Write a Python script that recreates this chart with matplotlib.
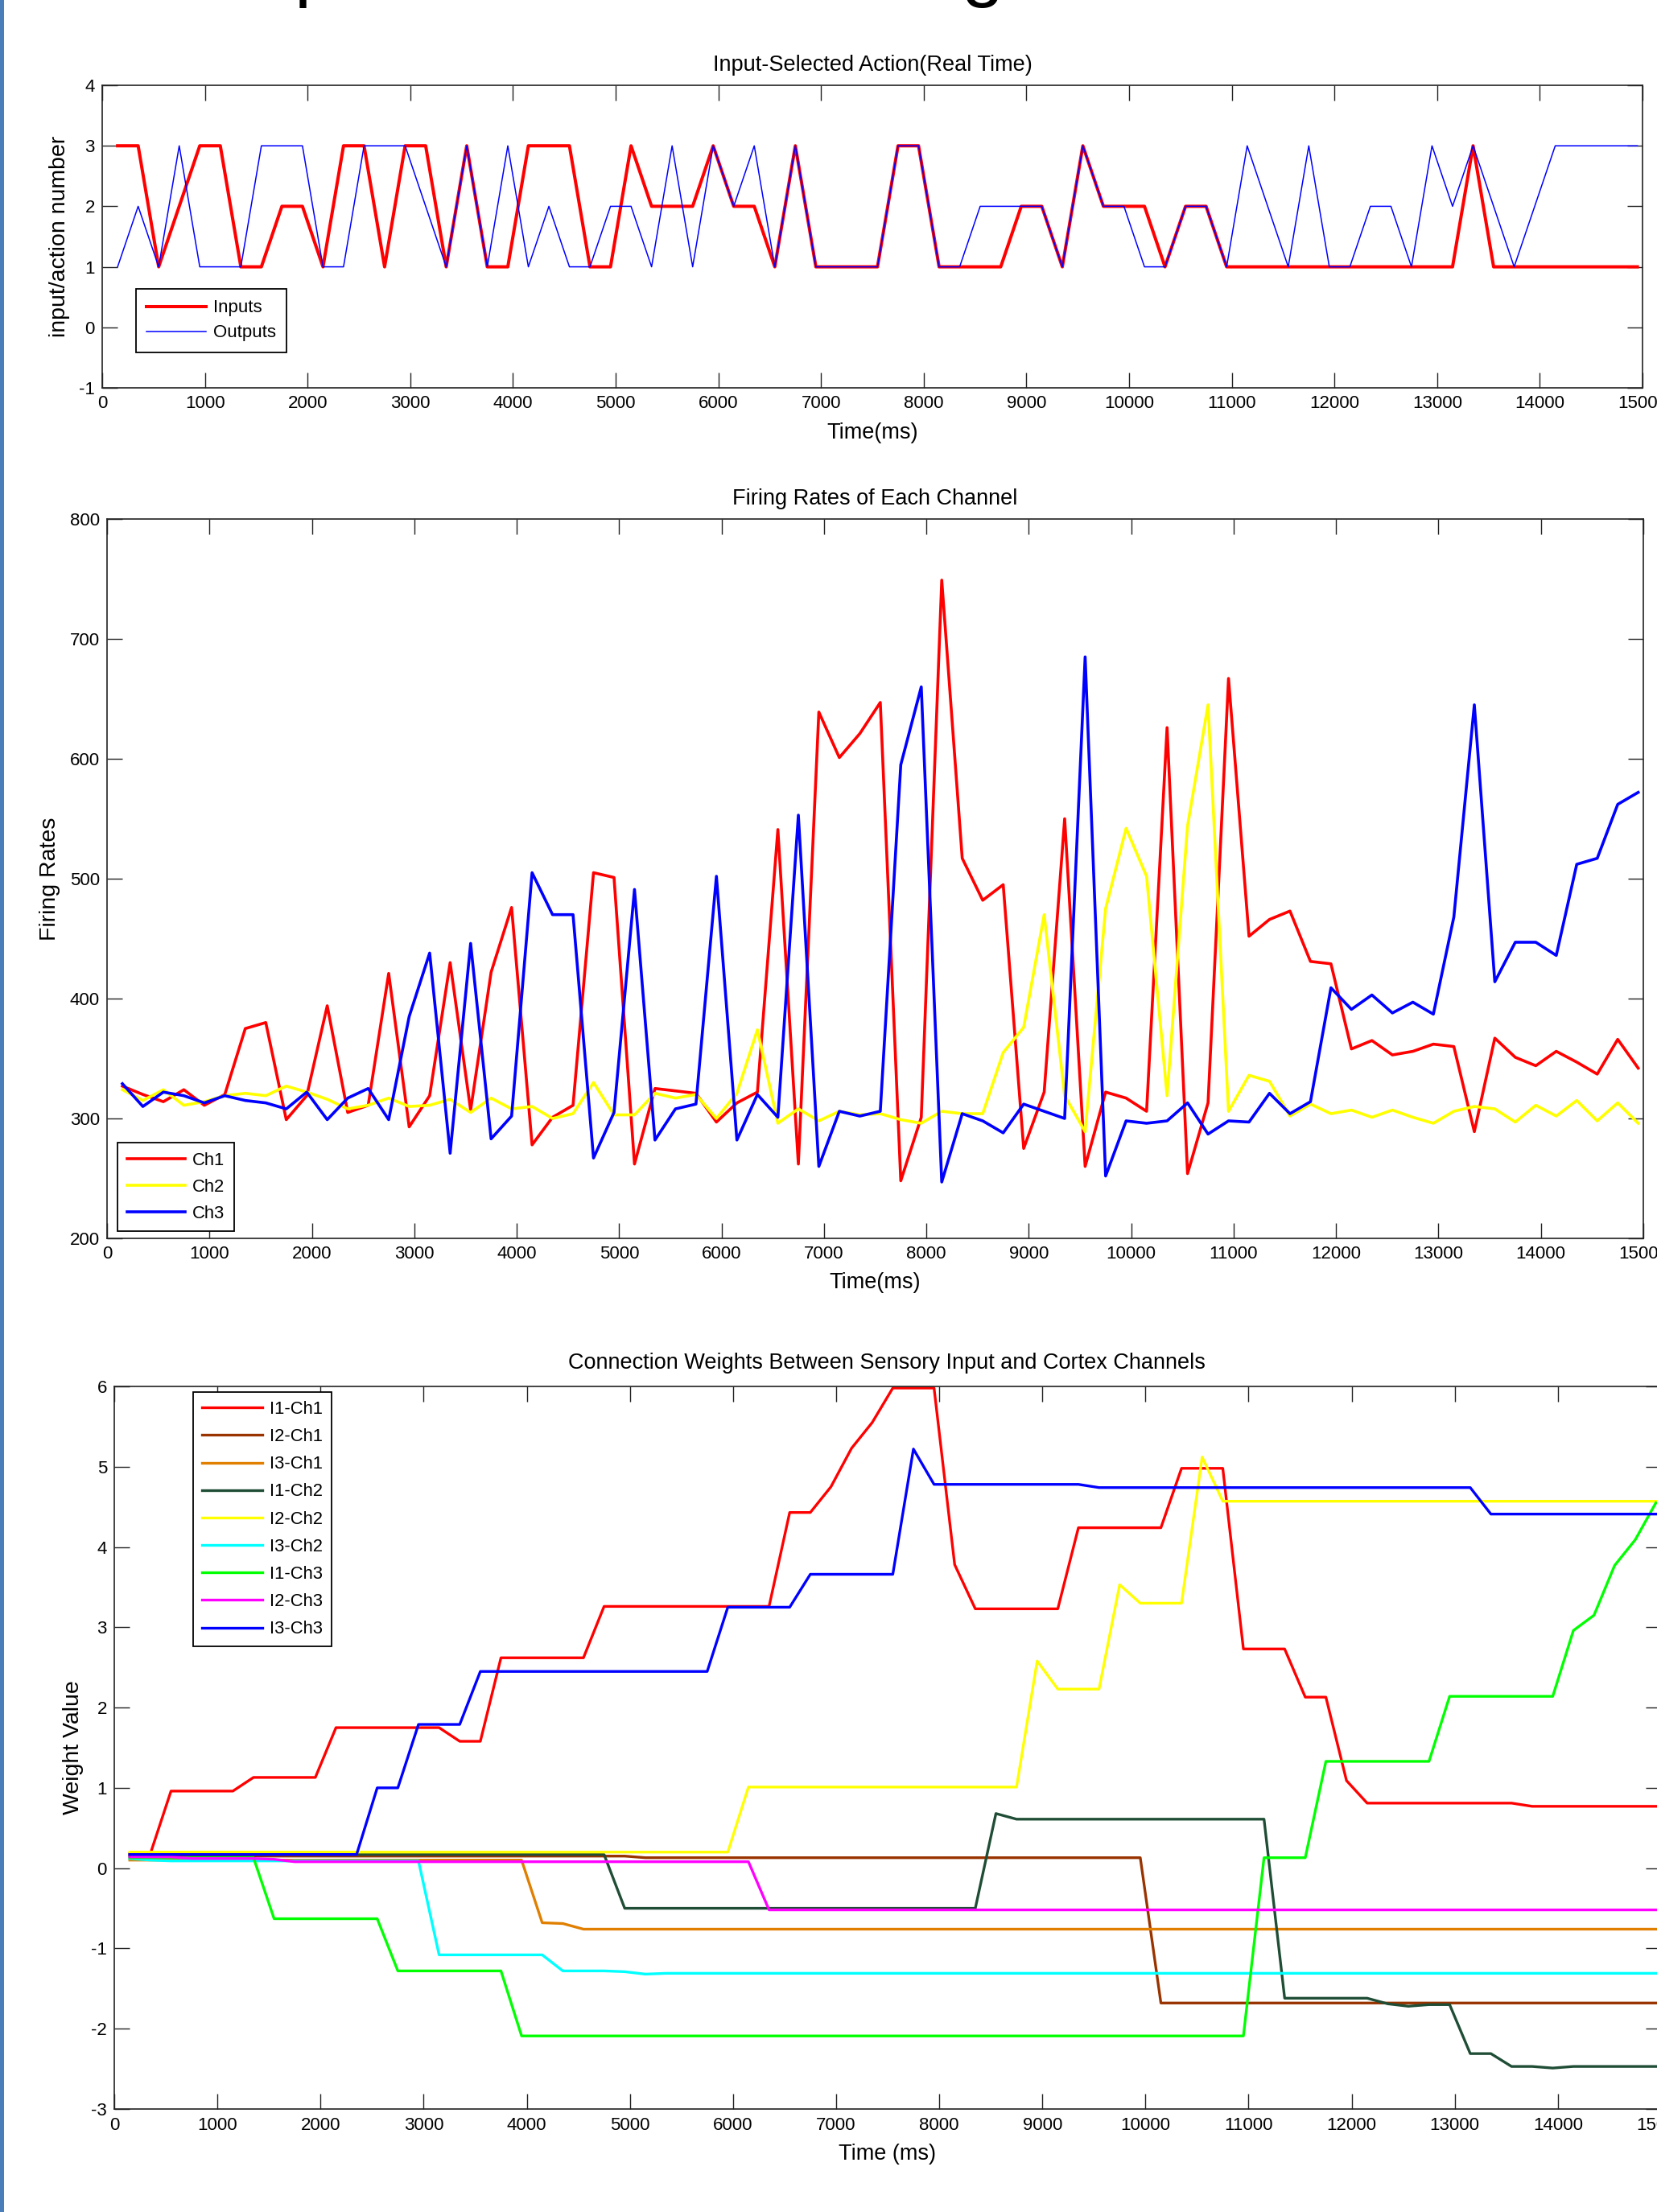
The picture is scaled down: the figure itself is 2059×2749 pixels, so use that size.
import matplotlib
matplotlib.use("Agg")
import matplotlib.pyplot as plt
from matplotlib.patches import Rectangle

# ---------------- data ----------------
time_ms = [150, 350, 550, 750, 950, 1150, 1350, 1550, 1750, 1950,
           2150, 2350, 2550, 2750, 2950, 3150, 3350, 3550, 3750, 3950,
           4150, 4350, 4550, 4750, 4950, 5150, 5350, 5550, 5750, 5950,
           6150, 6350, 6550, 6750, 6950, 7150, 7350, 7550, 7750, 7950,
           8150, 8350, 8550, 8750, 8950, 9150, 9350, 9550, 9750, 9950,
           10150, 10350, 10550, 10750, 10950, 11150, 11350, 11550, 11750, 11950,
           12150, 12350, 12550, 12750, 12950, 13150, 13350, 13550, 13750, 13950,
           14150, 14350, 14550, 14750, 14950]

inputs = [3, 3, 1, 2, 3, 3, 1, 1, 2, 2,
          1, 3, 3, 1, 3, 3, 1, 3, 1, 1,
          3, 3, 3, 1, 1, 3, 2, 2, 2, 3,
          2, 2, 1, 3, 1, 1, 1, 1, 3, 3,
          1, 1, 1, 1, 2, 2, 1, 3, 2, 2,
          2, 1, 2, 2, 1, 1, 1, 1, 1, 1,
          1, 1, 1, 1, 1, 1, 3, 1, 1, 1,
          1, 1, 1, 1, 1]
outputs = [1, 2, 1, 3, 1, 1, 1, 3, 3, 3,
           1, 1, 3, 3, 3, 2, 1, 3, 1, 3,
           1, 2, 1, 1, 2, 2, 1, 3, 1, 3,
           2, 3, 1, 3, 1, 1, 1, 1, 3, 3,
           1, 1, 2, 2, 2, 2, 1, 3, 2, 2,
           1, 1, 2, 2, 1, 3, 2, 1, 3, 1,
           1, 2, 2, 1, 3, 2, 3, 2, 1, 2,
           3, 3, 3, 3, 3]

ch1 = [327, 320, 314, 324, 311, 320, 375, 380, 299, 319,
       394, 305, 311, 421, 293, 319, 430, 307, 422, 476,
       278, 301, 311, 505, 501, 262, 325, 323, 321, 297,
       313, 322, 541, 262, 639, 601, 621, 647, 248, 301,
       749, 517, 482, 495, 275, 322, 550, 260, 322, 317,
       306, 626, 254, 313, 667, 452, 466, 473, 431, 429,
       358, 365, 353, 356, 362, 360, 289, 367, 351, 344,
       356, 347, 337, 366, 342]
ch2 = [324, 315, 324, 311, 314, 319, 321, 319, 327, 322,
       316, 308, 311, 317, 310, 311, 316, 305, 317, 308,
       310, 300, 304, 330, 303, 303, 321, 317, 320, 300,
       321, 374, 296, 308, 298, 306, 303, 304, 299, 296,
       306, 304, 304, 355, 376, 470, 319, 289, 475, 542,
       502, 319, 544, 645, 306, 336, 331, 302, 312, 304,
       307, 301, 307, 301, 296, 306, 310, 308, 297, 311,
       302, 315, 298, 313, 296]
ch3 = [329, 310, 322, 319, 313, 319, 315, 313, 308, 322,
       299, 317, 325, 299, 385, 438, 271, 446, 283, 302,
       505, 470, 470, 267, 305, 491, 282, 308, 312, 502,
       282, 320, 301, 553, 260, 306, 302, 306, 595, 660,
       247, 304, 298, 288, 312, 306, 300, 685, 252, 298,
       296, 298, 313, 287, 298, 297, 321, 304, 314, 409,
       391, 403, 388, 397, 387, 468, 645, 414, 447, 447,
       436, 512, 517, 562, 572]

w_i1_ch1 = [0.18, 0.18, 0.96, 0.96, 0.96, 0.96, 1.13, 1.13, 1.13, 1.13,
            1.75, 1.75, 1.75, 1.75, 1.75, 1.75, 1.58, 1.58, 2.62, 2.62,
            2.62, 2.62, 2.62, 3.26, 3.26, 3.26, 3.26, 3.26, 3.26, 3.26,
            3.26, 3.26, 4.43, 4.43, 4.75, 5.23, 5.55, 5.98, 5.98, 5.98,
            3.78, 3.23, 3.23, 3.23, 3.23, 3.23, 4.24, 4.24, 4.24, 4.24,
            4.24, 4.98, 4.98, 4.98, 2.73, 2.73, 2.73, 2.13, 2.13, 1.09,
            0.81, 0.81, 0.81, 0.81, 0.81, 0.81, 0.81, 0.81, 0.77, 0.77,
            0.77, 0.77, 0.77, 0.77, 0.77]
w_i2_ch1 = [0.15] * 25 + [0.13] * 25 + [-1.68] * 25
w_i3_ch1 = [0.10] * 20 + [-0.68, -0.69] + [-0.76] * 53
w_i1_ch2 = ([0.17] * 24 + [-0.50] * 18 + [0.68] + [0.61] * 13 + [-1.62] * 5
            + [-1.69, -1.72, -1.70, -1.70, -2.31, -2.31, -2.47, -2.47, -2.49]
            + [-2.47] * 5)
w_i2_ch2 = ([0.20] * 30 + [1.01] * 14 + [2.58] + [2.23] * 3 + [3.53]
            + [3.30] * 3 + [5.12] + [4.57] * 22)
w_i3_ch2 = [0.12, 0.10] + [0.09] * 13 + [-1.08] * 6 + [-1.28] * 3 + [-1.29, -1.32] + [-1.31] * 49
w_i1_ch3 = ([0.13] * 7 + [-0.63] * 6 + [-1.28] * 6 + [-2.09] * 36 + [0.13] * 3
            + [1.33] * 6 + [2.14] * 6 + [2.96, 3.15, 3.77, 4.09, 4.55])
w_i2_ch3 = [0.14] * 3 + [0.12] * 4 + [0.11] + [0.08] * 23 + [-0.52] * 44
w_i3_ch3 = ([0.17] * 12 + [1.00] * 2 + [1.79] * 3 + [2.45] * 12 + [3.25] * 4
            + [3.66] * 5 + [5.22] + [4.78] * 8 + [4.74] * 19 + [4.41] * 9)

weight_series = [
    ("I1-Ch1", w_i1_ch1, "#ff0000"),
    ("I2-Ch1", w_i2_ch1, "#993300"),
    ("I3-Ch1", w_i3_ch1, "#e07f00"),
    ("I1-Ch2", w_i1_ch2, "#1f4d35"),
    ("I2-Ch2", w_i2_ch2, "#ffff00"),
    ("I3-Ch2", w_i3_ch2, "#00ffff"),
    ("I1-Ch3", w_i1_ch3, "#00ff00"),
    ("I2-Ch3", w_i2_ch3, "#ff00ff"),
    ("I3-Ch3", w_i3_ch3, "#0000ff"),
]

x_ticks = list(range(0, 15001, 1000))

# ---------------- figure ----------------
W, H, DPI = 2059, 2749, 100
plt.rcParams['font.family'] = ['Liberation Sans', 'DejaVu Sans']
plt.rcParams['axes.unicode_minus'] = False
fig = plt.figure(figsize=(W / DPI, H / DPI), dpi=DPI)
fig.patch.set_facecolor('white')

EDGE = '#222222'
TICK_FS = 16
LAB_FS = 20.5


def rect(l, t, r, b):
    return [l / W, 1 - b / H, (r - l) / W, (b - t) / H]


def fx(px):
    return px / W


def fy(py):
    return 1 - py / H


def style(ax, ylim, yticks, xpad=6.5, ypad=6.5):
    ax.set_xlim(0, 15000)
    ax.set_ylim(*ylim)
    ax.set_xticks(x_ticks)
    ax.set_xticklabels([str(v) for v in x_ticks])
    ax.set_yticks(yticks)
    ax.set_yticklabels([str(v) for v in yticks])
    ax.tick_params(axis='both', direction='in', length=13.5, width=1.0,
                   top=True, right=True, labelsize=TICK_FS, colors='black')
    ax.tick_params(axis='both', color=EDGE)
    ax.tick_params(axis='x', pad=xpad)
    ax.tick_params(axis='y', pad=ypad)
    for s in ax.spines.values():
        s.set_linewidth(1.2)
        s.set_color(EDGE)


def legend(ax, x0, y0, fs, ls, bp, hl=3.3, htp=0.4):
    lg = ax.legend(loc='upper left', bbox_to_anchor=(fx(x0), fy(y0)),
                   bbox_transform=fig.transFigure, borderaxespad=0,
                   fontsize=fs, handlelength=hl, handletextpad=htp,
                   labelspacing=ls, borderpad=bp, fancybox=False,
                   framealpha=1, edgecolor='black')
    lg.get_frame().set_linewidth(1.3)
    return lg


# left slide bar
fig.add_artist(Rectangle((0, 0), 5 / W, 1, transform=fig.transFigure,
                         facecolor='#4a7ebb', edgecolor='none'))
# cut-off slide title fragments at the very top
fig.text(fx(366), 1 + 10 / H, "p", fontsize=68, ha='left', va='baseline')
fig.text(fx(1221), 1 + 10 / H, "g", fontsize=68, ha='center', va='baseline')

# ---------- panel 1 ----------
ax1 = fig.add_axes(rect(127, 106, 2041, 482))
ax1.plot(time_ms, inputs, color='#ff0000', lw=2.9, label='Inputs')
ax1.plot(time_ms, outputs, color='#0000ff', lw=1.1, label='Outputs')
style(ax1, (-1, 4), [-1, 0, 1, 2, 3, 4])
legend(ax1, 169, 359, 16, 0.45, 0.6)
fig.text(fx(1084), fy(88), "Input-Selected Action(Real Time)",
         fontsize=LAB_FS - 1, ha='center', va='baseline')
fig.text(fx(1084), fy(538), "Time(ms)", fontsize=LAB_FS - 1, ha='center', va='center')
fig.text(fx(74), fy(294), "input/action number", fontsize=LAB_FS, rotation=90,
         ha='center', va='center')

# ---------- panel 2 ----------
ax2 = fig.add_axes(rect(133, 645, 2042, 1539))
ax2.plot(time_ms, ch1, color='#ff0000', lw=2.6, label='Ch1')
ax2.plot(time_ms, ch2, color='#ffff00', lw=2.6, label='Ch2')
ax2.plot(time_ms, ch3, color='#0000ff', lw=2.6, label='Ch3')
style(ax2, (200, 800), [200, 300, 400, 500, 600, 700, 800])
legend(ax2, 146, 1420, 15.8, 0.54, 0.54)
fig.text(fx(1087), fy(627), "Firing Rates of Each Channel",
         fontsize=LAB_FS - 1, ha='center', va='baseline')
fig.text(fx(1087), fy(1594), "Time(ms)", fontsize=LAB_FS - 1, ha='center', va='center')
fig.text(fx(62), fy(1092), "Firing Rates", fontsize=LAB_FS, rotation=90,
         ha='center', va='center')

# ---------- panel 3 ----------
ax3 = fig.add_axes(rect(142, 1723, 2064, 2621))
for name, vals, col in weight_series:
    ax3.plot(time_ms, vals, color=col, lw=2.4, label=name)
style(ax3, (-3, 6), [-3, -2, -1, 0, 1, 2, 3, 4, 5, 6], xpad=7.5)
legend(ax3, 240, 1730, 15.8, 0.6, 0.5, hl=3.4, htp=0.45)
fig.text(fx(1102), fy(1701), "Connection Weights Between Sensory Input and Cortex Channels",
         fontsize=LAB_FS - 1, ha='center', va='baseline')
fig.text(fx(1102), fy(2677), "Time (ms)", fontsize=LAB_FS - 1, ha='center', va='center')
fig.text(fx(91), fy(2172), "Weight Value", fontsize=LAB_FS, rotation=90,
         ha='center', va='center')

fig.savefig("out.png", dpi=DPI, facecolor='white')
